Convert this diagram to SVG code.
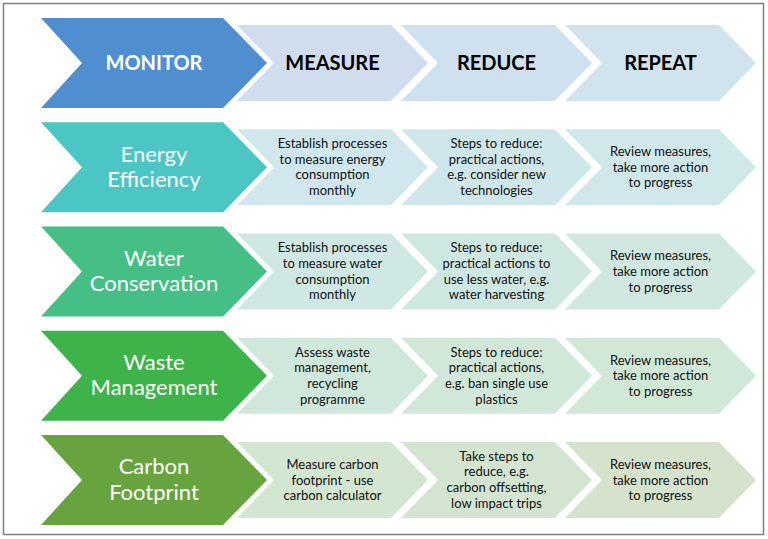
<svg xmlns="http://www.w3.org/2000/svg" width="768" height="539" viewBox="0 0 768 539">
<style>
.hd{font-family:Lato,"Open Sans",sans-serif;font-weight:bold;font-size:20px;text-anchor:middle}
.big{font-family:Lato,"Open Sans",sans-serif;font-size:22px;fill:#ffffff;text-anchor:middle}
.sm{font-family:Lato,"Open Sans",sans-serif;font-size:13px;fill:#111111;text-anchor:middle}
</style>
<defs>
<path id="bigc" d="M0,0 L182,0 L226,45 L182,90 L0,90 L41,45 Z"/>
<path id="smc" d="M0,0 L154,0 L191,38 L154,76 L0,76 L37,38 Z"/>
</defs>
<rect x="3.5" y="3.5" width="760" height="531" fill="#ffffff" stroke="#808080" stroke-width="1.5"/>
<g id="connectors"></g>

<g id="row-header">
<g id="monitor"><use href="#bigc" x="41" y="18" fill="#4F8FCF"/><text class="hd" x="154" y="70" fill="#ffffff">MONITOR</text></g>
<g id="measure"><use href="#smc" x="237" y="25" fill="#D0DDEE"/><text class="hd" x="332.5" y="70" fill="#000000">MEASURE</text></g>
<g id="reduce"><use href="#smc" x="401" y="25" fill="#CFE0EE"/><text class="hd" x="496.5" y="70" fill="#000000">REDUCE</text></g>
<g id="repeat"><use href="#smc" x="565" y="25" fill="#D1E4EE"/><text class="hd" x="660.5" y="70" fill="#000000">REPEAT</text></g>
</g>

<g id="row-energy">
<g id="energy"><use href="#bigc" x="41" y="122.25" fill="#4BC6C5"/><text class="big" x="154" y="161.5">Energy</text><text class="big" x="154" y="187">Efficiency</text></g>
<g id="energy-measure"><use href="#smc" x="237" y="129.25" fill="#D0E7ED"/><text class="sm" x="332.5"><tspan x="332.5" y="148">Establish processes</tspan><tspan x="332.5" y="163.7">to measure energy</tspan><tspan x="332.5" y="179.4">consumption</tspan><tspan x="332.5" y="195.1">monthly</tspan></text></g>
<g id="energy-reduce"><use href="#smc" x="401" y="129.25" fill="#CFE7EB"/><text class="sm"><tspan x="496.5" y="148">Steps to reduce:</tspan><tspan x="496.5" y="163.7">practical actions,</tspan><tspan x="496.5" y="179.4">e.g. consider new</tspan><tspan x="496.5" y="195.1">technologies</tspan></text></g>
<g id="energy-repeat"><use href="#smc" x="565" y="129.25" fill="#D0E8EA"/><text class="sm"><tspan x="660.5" y="156">Review measures,</tspan><tspan x="660.5" y="171.7">take more action</tspan><tspan x="660.5" y="187.4">to progress</tspan></text></g>
</g>

<g id="row-water">
<g id="water"><use href="#bigc" x="41" y="226.5" fill="#45BF86"/><text class="big" x="154" y="265.5">Water</text><text class="big" x="154" y="291">Conservation</text></g>
<g id="water-measure"><use href="#smc" x="237" y="233.5" fill="#CFE8E4"/><text class="sm"><tspan x="332.5" y="252.2">Establish processes</tspan><tspan x="332.5" y="267.9">to measure water</tspan><tspan x="332.5" y="283.6">consumption</tspan><tspan x="332.5" y="299.3">monthly</tspan></text></g>
<g id="water-reduce"><use href="#smc" x="401" y="233.5" fill="#CFE7E1"/><text class="sm"><tspan x="496.5" y="252.2">Steps to reduce:</tspan><tspan x="496.5" y="267.9">practical actions to</tspan><tspan x="496.5" y="283.6">use less water, e.g.</tspan><tspan x="496.5" y="299.3">water harvesting</tspan></text></g>
<g id="water-repeat"><use href="#smc" x="565" y="233.5" fill="#D0E8DF"/><text class="sm"><tspan x="660.5" y="260.2">Review measures,</tspan><tspan x="660.5" y="275.9">take more action</tspan><tspan x="660.5" y="291.6">to progress</tspan></text></g>
</g>

<g id="row-waste">
<g id="waste"><use href="#bigc" x="41" y="330.75" fill="#3EB34A"/><text class="big" x="154" y="369.75">Waste</text><text class="big" x="154" y="395.25">Management</text></g>
<g id="waste-measure"><use href="#smc" x="237" y="337.75" fill="#D0E8DB"/><text class="sm"><tspan x="332.5" y="356.5">Assess waste</tspan><tspan x="332.5" y="372.2">management,</tspan><tspan x="332.5" y="387.9">recycling</tspan><tspan x="332.5" y="403.6">programme</tspan></text></g>
<g id="waste-reduce"><use href="#smc" x="401" y="337.75" fill="#D1E8D9"/><text class="sm"><tspan x="496.5" y="356.5">Steps to reduce:</tspan><tspan x="496.5" y="372.2">practical actions,</tspan><tspan x="496.5" y="387.9">e.g. ban single use</tspan><tspan x="496.5" y="403.6">plastics</tspan></text></g>
<g id="waste-repeat"><use href="#smc" x="565" y="337.75" fill="#D2E8D7"/><text class="sm"><tspan x="660.5" y="364.5">Review measures,</tspan><tspan x="660.5" y="380.2">take more action</tspan><tspan x="660.5" y="395.9">to progress</tspan></text></g>
</g>

<g id="row-carbon">
<g id="carbon"><use href="#bigc" x="41" y="435" fill="#67A43F"/><text class="big" x="154" y="474">Carbon</text><text class="big" x="154" y="499.5">Footprint</text></g>
<g id="carbon-measure"><use href="#smc" x="237" y="442" fill="#D2E6D2"/><text class="sm"><tspan x="332.5" y="468.8">Measure carbon</tspan><tspan x="332.5" y="484.5">footprint - use</tspan><tspan x="332.5" y="500.2">carbon calculator</tspan></text></g>
<g id="carbon-reduce"><use href="#smc" x="401" y="442" fill="#D3E5D0"/><text class="sm"><tspan x="496.5" y="460.7">Take steps to</tspan><tspan x="496.5" y="476.4">reduce, e.g.</tspan><tspan x="496.5" y="492.1">carbon offsetting,</tspan><tspan x="496.5" y="507.8">low impact trips</tspan></text></g>
<g id="carbon-repeat"><use href="#smc" x="565" y="442" fill="#D5E3CD"/><text class="sm"><tspan x="660.5" y="468.8">Review measures,</tspan><tspan x="660.5" y="484.5">take more action</tspan><tspan x="660.5" y="500.2">to progress</tspan></text></g>
</g>
</svg>
